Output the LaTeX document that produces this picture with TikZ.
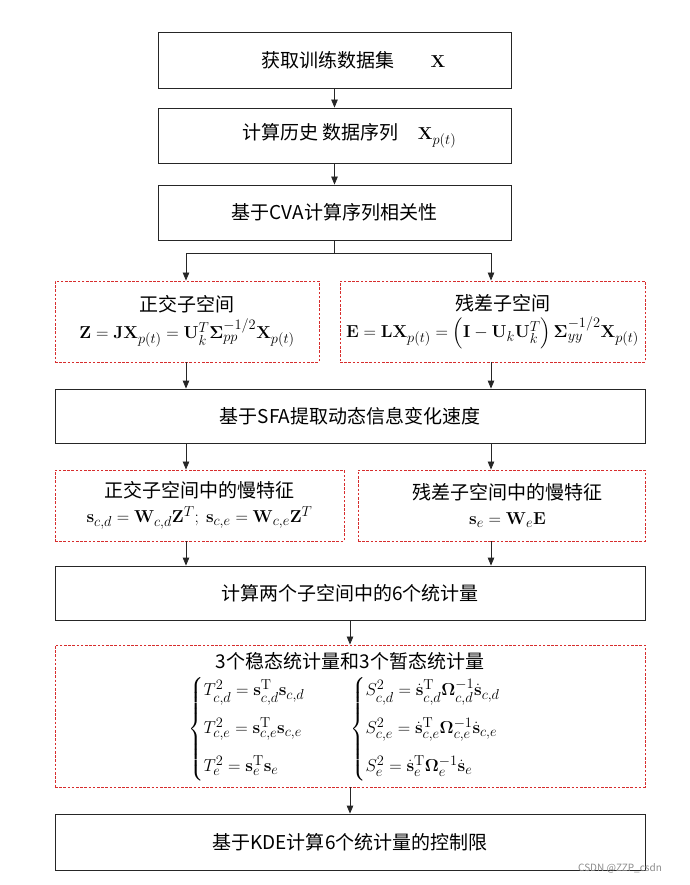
\documentclass[tikz,border=0pt]{standalone}
\usepackage{amsmath}
\usepackage[no-math]{fontspec}
\setmainfont{Noto Sans CJK SC}
\usetikzlibrary{arrows.meta,positioning}
\definecolor{dashred}{RGB}{215,45,45}
\tikzset{
  stepbox/.style={draw=black!85, line width=0.8pt, align=center, inner sep=0pt},
  subbox/.style={draw=dashred, line width=0.9pt, dash pattern=on 2.6pt off 1.6pt,
    align=center, inner sep=0pt},
  arr/.style={-{Triangle[length=8pt,width=6.5pt]}, line width=0.8pt, black!85}
}

\begin{document}
\begin{tikzpicture}[x=1pt,y=-1pt,font=\fontsize{19}{23}\selectfont]
  \useasboundingbox (0,0) rectangle (689,885);

  \node[stepbox, minimum width=353pt, minimum height=56pt] (data) at (334.5,60)
    {\hspace{38pt}获取训练数据集\hspace{36pt}$\mathbf{X}$};
  \node[stepbox, minimum width=353pt, minimum height=55pt] (hist) at (334.5,135.5)
    {\hspace{30pt}计算历史 数据序列\quad$\mathbf{X}_{p(t)}$};
  \node[stepbox, minimum width=353pt, minimum height=55pt] (cva) at (334.5,212.5)
    {基于CVA计算序列相关性};

  \node[subbox, minimum width=264pt, minimum height=81pt] (orth) at (187,321.5)
    {正交子空间\\[4pt]
     $\mathbf{Z}=\mathbf{J}\mathbf{X}_{p(t)}=\mathbf{U}_k^T\boldsymbol{\Sigma}_{pp}^{-1/2}\mathbf{X}_{p(t)}$};
  \node[subbox, minimum width=305pt, minimum height=81pt] (resid) at (492.5,321.5)
    {\hspace{20pt}残差子空间\\[4pt]
     $\mathbf{E}=\mathbf{L}\mathbf{X}_{p(t)}=\left(\mathbf{I}-\mathbf{U}_k\mathbf{U}_k^T\right)\boldsymbol{\Sigma}_{yy}^{-1/2}\mathbf{X}_{p(t)}$};

  \node[stepbox, minimum width=590pt, minimum height=54pt] (sfa) at (350,416)
    {基于SFA提取动态信息变化速度};

  \node[subbox, minimum width=289pt, minimum height=71pt] (slowo) at (199.5,505.5)
    {正交子空间中的慢特征\\[2pt]
     $\mathbf{s}_{c,d}=\mathbf{W}_{c,d}\mathbf{Z}^T;\ \mathbf{s}_{c,e}=\mathbf{W}_{c,e}\mathbf{Z}^T$};
  \node[subbox, minimum width=287pt, minimum height=71pt] (slowr) at (501.5,505.5)
    {\hspace{12pt}残差子空间中的慢特征\\[2pt]
     \hspace{12pt}$\mathbf{s}_e=\mathbf{W}_e\mathbf{E}$};

  \node[stepbox, minimum width=590pt, minimum height=54pt] (count) at (350,593)
    {计算两个子空间中的6个统计量};

  % statistics box
  \node[subbox, minimum width=590pt, minimum height=142pt] (stats) at (350,716) {};
  \node[inner sep=1pt] (stitle) at (350,661) {3个稳态统计量和3个暂态统计量};
  \node[anchor=west, inner sep=0pt] (tsq) at (188,729)
    {$\left\{\begin{array}{@{}l@{}}
      T_{c,d}^2=\mathbf{s}_{c,d}^{\mathrm{T}}\mathbf{s}_{c,d}\\[15pt]
      T_{c,e}^2=\mathbf{s}_{c,e}^{\mathrm{T}}\mathbf{s}_{c,e}\\[15pt]
      T_e^2=\mathbf{s}_e^{\mathrm{T}}\mathbf{s}_e
     \end{array}\right.$};
  \node[anchor=west, inner sep=0pt] (ssq) at (350,729)
    {$\left\{\begin{array}{@{}l@{}}
      S_{c,d}^2=\dot{\mathbf{s}}_{c,d}^{\mathrm{T}}\boldsymbol{\Omega}_{c,d}^{-1}\dot{\mathbf{s}}_{c,d}\\[15pt]
      S_{c,e}^2=\dot{\mathbf{s}}_{c,e}^{\mathrm{T}}\boldsymbol{\Omega}_{c,e}^{-1}\dot{\mathbf{s}}_{c,e}\\[15pt]
      S_e^2=\dot{\mathbf{s}}_e^{\mathrm{T}}\boldsymbol{\Omega}_e^{-1}\dot{\mathbf{s}}_e
     \end{array}\right.$};

  \node[stepbox, minimum width=590pt, minimum height=56pt] (kde) at (350,842)
    {基于KDE计算6个统计量的控制限};

  \node[text=black!45, font=\fontsize{10}{12}\selectfont] (mark) at (620,868) {CSDN @ZZP\_csdn};

  % connectors
  \draw[arr] (data) -- (hist);
  \draw[arr] (hist) -- (cva);
  \draw[line width=0.8pt, black!85] (cva.south) -- ++(0,13) coordinate (split);
  \draw[arr] (split) -| (orth.north -| 186,0);
  \draw[arr] (split) -| (resid.north -| 491,0);
  \foreach \xx in {186,491} {
    \draw[arr] (\xx,0 |- orth.south) -- (\xx,0 |- sfa.north);
    \draw[arr] (\xx,0 |- sfa.south) -- (\xx,0 |- slowo.north);
    \draw[arr] (\xx,0 |- slowo.south) -- (\xx,0 |- count.north);
  }
  \draw[arr] (count) -- (stats);
  \draw[arr] (stats) -- (kde);
\end{tikzpicture}
\end{document}
